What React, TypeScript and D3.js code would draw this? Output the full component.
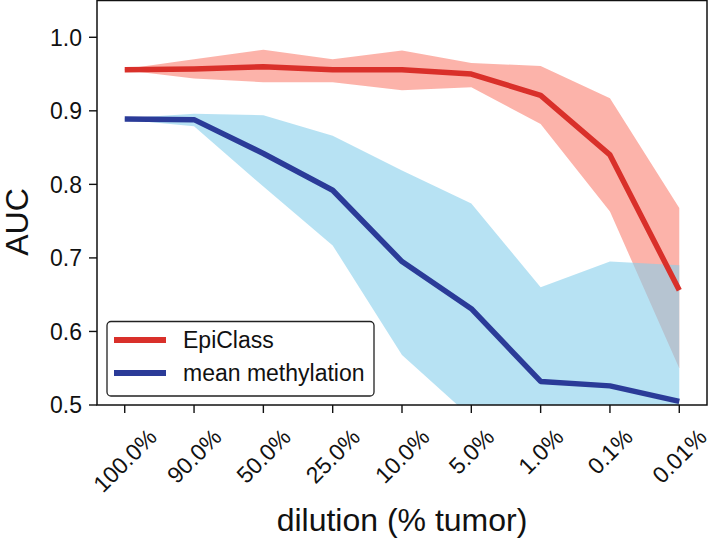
import React from "react";
import * as d3 from "d3";

const categories = ["100.0%", "90.0%", "50.0%", "25.0%", "10.0%", "5.0%", "1.0%", "0.1%", "0.01%"];
const epiMean = [0.956, 0.957, 0.960, 0.956, 0.956, 0.950, 0.921, 0.840, 0.656];
const epiUpper = [0.957, 0.970, 0.983, 0.970, 0.982, 0.965, 0.961, 0.917, 0.768];
const epiLower = [0.955, 0.944, 0.939, 0.939, 0.928, 0.932, 0.882, 0.763, 0.550];
const methMean = [0.889, 0.888, 0.842, 0.792, 0.695, 0.631, 0.532, 0.526, 0.505];
const methUpper = [0.890, 0.896, 0.894, 0.866, 0.819, 0.774, 0.660, 0.695, 0.690];
const methLower = [0.888, 0.879, 0.797, 0.717, 0.568, 0.483, 0.40, 0.40, 0.42];
const yTicks = [0.5, 0.6, 0.7, 0.8, 0.9, 1.0];
const seriesNames = ["EpiClass", "mean methylation"];

const W = 708, H = 539;
const left = 97, right = 707, top = 0.5, bottom = 405;
const FONT = "'Liberation Sans', Arial, sans-serif";

const charW: Record<string, number> = { "0": 0.556, "1": 0.556, "2": 0.556, "5": 0.556, "9": 0.556, ".": 0.278, "%": 0.889 };
const textW = (s: string, size: number) => s.split("").reduce((a, c) => a + (charW[c] ?? 0.556), 0) * size;

export default function App() {
  const x = d3.scaleLinear().domain([-0.4, 8.4]).range([left, right]);
  const y = d3.scaleLinear().domain([0.5, 1.05]).range([bottom, top]);
  const idx = categories.map((_, i) => i);

  const area = (up: number[], lo: number[]) =>
    d3.area<number>().x((i) => x(i)).y0((i) => y(lo[i])).y1((i) => y(up[i]))(idx) || "";
  const line = (v: number[]) => d3.line<number>().x((i) => x(i)).y((i) => y(v[i]))(idx) || "";

  const red = "#d9302a";
  const blue = "#2b3b98";
  const tickFs = 23;
  const capH = tickFs * 0.716;

  return (
    <svg width={W} height={H} style={{ position: "absolute", left: 0, top: 0, background: "#fff" }} fontFamily={FONT}>
      <defs>
        <clipPath id="plotclip">
          <rect x={left} y={top} width={right - left} height={bottom - top} />
        </clipPath>
      </defs>
      <g clipPath="url(#plotclip)">
        <path d={area(epiUpper, epiLower)} fill="salmon" fillOpacity={0.6} />
        <path d={area(methUpper, methLower)} fill="skyblue" fillOpacity={0.6} />
        <path d={line(epiMean)} fill="none" stroke={red} strokeWidth={5.5} strokeLinejoin="round" />
        <path d={line(methMean)} fill="none" stroke={blue} strokeWidth={5.5} strokeLinejoin="round" />
      </g>
      {/* frame */}
      <rect x={left} y={top} width={right - left} height={bottom - top} fill="none" stroke="#111" strokeWidth={1.5} />
      {/* y ticks */}
      {yTicks.map((t) => (
        <g key={t}>
          <line x1={left - 8} x2={left} y1={y(t)} y2={y(t)} stroke="#111" strokeWidth={1.4} />
          <text x={left - 15} y={y(t) + capH / 2} fontSize={tickFs} textAnchor="end" fill="#111">
            {t.toFixed(1)}
          </text>
        </g>
      ))}
      {/* x ticks */}
      {categories.map((c, i) => {
        const w = textW(c, tickFs);
        const cx = x(i);
        const cy = 427 + (w + capH) * 0.3536;
        return (
          <g key={c}>
            <line x1={cx} x2={cx} y1={bottom} y2={bottom + 8} stroke="#111" strokeWidth={1.4} />
            <text
              transform={`translate(${cx},${cy}) rotate(-45)`}
              y={capH / 2}
              fontSize={tickFs}
              textAnchor="middle"
              fill="#111"
            >
              {c}
            </text>
          </g>
        );
      })}
      {/* axis labels */}
      <text transform={`translate(${5 + 32 * 0.716},222) rotate(-90)`} fontSize={32} textAnchor="middle" fill="#111">
        AUC
      </text>
      <text x={(left + right) / 2} y={531} fontSize={32} textAnchor="middle" fill="#111">
        dilution (% tumor)
      </text>
      {/* legend */}
      <rect x={107} y={321.5} width={267} height={74.5} rx={4} fill="#fff" fillOpacity={0.8} stroke="#222" strokeWidth={1.3} />
      {seriesNames.map((n, i) => {
        const ly = 340 + i * 33;
        return (
          <g key={n}>
            <line x1={114} x2={166} y1={ly} y2={ly} stroke={i === 0 ? red : blue} strokeWidth={5.8} />
            <text x={183} y={ly + 8.3} fontSize={23} fill="#111">
              {n}
            </text>
          </g>
        );
      })}
    </svg>
  );
}
